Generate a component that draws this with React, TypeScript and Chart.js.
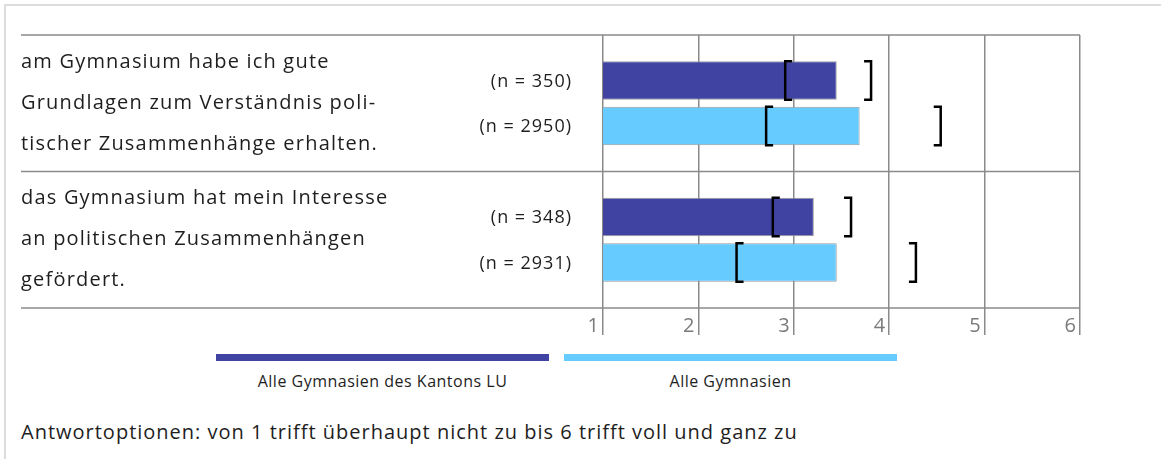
import { useEffect, useRef } from "react";
import { Chart, registerables } from "chart.js";

Chart.register(...registerables);

// Statement texts, one line per entry
const categories: string[][] = [
  ["am Gymnasium habe ich gute", "Grundlagen zum Verständnis poli-", "tischer Zusammenhänge erhalten."],
  ["das Gymnasium hat mein Interesse", "an politischen Zusammenhängen", "gefördert."],
];

const seriesNames = ["Alle Gymnasien des Kantons LU", "Alle Gymnasien"];

// Mean agreement (scale 1–6)
const kantonMeans = [3.45, 3.21];
const alleMeans = [3.69, 3.45];

// Range brackets around each mean
const kantonLower = [2.91, 2.78];
const kantonUpper = [3.81, 3.6];
const alleLower = [2.71, 2.4];
const alleUpper = [4.54, 4.28];

// Sample sizes
const kantonN = [350, 348];
const alleN = [2950, 2931];

const scaleTicks = [1, 2, 3, 4, 5, 6];

const note = "Antwortoptionen: von 1 trifft überhaupt nicht zu bis 6 trifft voll und ganz zu";

const FONT = "'Open Sans', 'DejaVu Sans', sans-serif";
const DARK = "#4143a3";
const LIGHT = "#66ccff";
const GRID = "#8a8a8a";
const TEXT = "#1e1e1e";

const lowers = [kantonLower, alleLower];
const uppers = [kantonUpper, alleUpper];
const sizes = [kantonN, alleN];

const overlayPlugin = {
  id: "overlay",
  beforeDatasetsDraw(chart: any) {
    const { ctx, chartArea, scales } = chart;
    const y = scales.y;
    const n = categories.length;
    const step = n > 1 ? y.getPixelForValue(1) - y.getPixelForValue(0) : chartArea.bottom - chartArea.top;
    const bounds: number[] = [];
    for (let i = 0; i <= n; i++) bounds.push(y.getPixelForValue(0) - step / 2 + i * step);
    ctx.save();
    ctx.strokeStyle = GRID;
    ctx.lineWidth = 1.5;
    bounds.forEach((b) => {
      ctx.beginPath();
      ctx.moveTo(21, b);
      ctx.lineTo(chartArea.right, b);
      ctx.stroke();
    });
    // statement texts
    ctx.fillStyle = TEXT;
    ctx.font = `20px ${FONT}`;
    (ctx as any).letterSpacing = "1.2px";
    ctx.textAlign = "left";
    ctx.textBaseline = "middle";
    categories.forEach((lines, i) => {
      const c = y.getPixelForValue(i);
      const lh = 41;
      const start = c - ((lines.length - 1) * lh) / 2;
      lines.forEach((l, k) => ctx.fillText(l, 21, start + k * lh));
    });
    // sample sizes next to each bar
    ctx.font = `18px ${FONT}`;
    (ctx as any).letterSpacing = "1px";
    ctx.textAlign = "right";
    chart.data.datasets.forEach((_: any, d: number) => {
      const meta = chart.getDatasetMeta(d);
      meta.data.forEach((bar: any, i: number) => {
        ctx.fillText(`(n = ${sizes[d][i]})`, chartArea.left - 31, bar.y + 1);
      });
    });
    ctx.restore();
  },
  afterDatasetsDraw(chart: any) {
    const { ctx, scales } = chart;
    const x = scales.x;
    ctx.save();
    ctx.strokeStyle = "#000";
    ctx.lineWidth = 2.5;
    ctx.lineJoin = "miter";
    ctx.lineCap = "butt";
    chart.data.datasets.forEach((_: any, d: number) => {
      const meta = chart.getDatasetMeta(d);
      meta.data.forEach((bar: any, i: number) => {
        const top = bar.y - bar.height / 2;
        const bot = bar.y + bar.height / 2;
        const xl = x.getPixelForValue(lowers[d][i]);
        const xu = x.getPixelForValue(uppers[d][i]);
        const w = 7;
        ctx.beginPath();
        ctx.moveTo(xl + w, top);
        ctx.lineTo(xl, top);
        ctx.lineTo(xl, bot);
        ctx.lineTo(xl + w, bot);
        ctx.stroke();
        ctx.beginPath();
        ctx.moveTo(xu - w, top);
        ctx.lineTo(xu, top);
        ctx.lineTo(xu, bot);
        ctx.lineTo(xu - w, bot);
        ctx.stroke();
      });
    });
    ctx.restore();
  },
};

export default function App() {
  const canvasRef = useRef<HTMLCanvasElement | null>(null);

  useEffect(() => {
    if (!canvasRef.current) return;
    const chart = new Chart(canvasRef.current, {
      type: "bar",
      data: {
        labels: categories.map((c) => c.join(" ")),
        datasets: [
          {
            label: seriesNames[0],
            data: kantonMeans,
            backgroundColor: DARK,
            borderColor: "#9a9a9a",
            borderWidth: 1,
            categoryPercentage: 0.667,
            barPercentage: 0.846,
          },
          {
            label: seriesNames[1],
            data: alleMeans,
            backgroundColor: LIGHT,
            borderColor: "#9a9a9a",
            borderWidth: 1,
            categoryPercentage: 0.667,
            barPercentage: 0.846,
          },
        ],
      },
      options: {
        indexAxis: "y",
        animation: false,
        responsive: true,
        maintainAspectRatio: false,
        layout: { padding: { left: 603, top: 35, right: 81, bottom: 0 } },
        plugins: {
          legend: { display: false },
          tooltip: { enabled: false },
        },
        scales: {
          y: { display: false },
          x: {
            min: scaleTicks[0],
            max: scaleTicks[scaleTicks.length - 1],
            afterBuildTicks: (scale: any) => {
              scale.ticks = scaleTicks.map((v) => ({ value: v }));
            },
            afterFit: (scale: any) => {
              scale.height = 34;
            },
            border: { display: false },
            grid: { color: GRID, lineWidth: 1.5, tickLength: 27, drawTicks: true },
            ticks: {
              align: "end",
              labelOffset: -4,
              padding: -21,
              color: "#7a7a7a",
              font: { family: FONT, size: 20 },
              autoSkip: false,
              maxRotation: 0,
            },
          },
        },
      },
      plugins: [overlayPlugin],
    });
    return () => chart.destroy();
  }, []);

  const legendText: React.CSSProperties = {
    position: "absolute",
    top: 372,
    width: 333,
    textAlign: "center",
    fontFamily: FONT,
    fontSize: 16,
    letterSpacing: "0.5px",
    lineHeight: "18px",
    color: TEXT,
    whiteSpace: "nowrap",
  };

  return (
    <div style={{ position: "fixed", left: 0, top: 0, width: 1161, height: 459, background: "#fff", overflow: "hidden" }}>
      <div
        style={{
          position: "absolute",
          left: 4,
          top: 4,
          width: 1300,
          height: 600,
          borderTop: "2px solid #dcdcdc",
          borderLeft: "2px solid #dcdcdc",
        }}
      />
      <div style={{ position: "absolute", left: 0, top: 0, width: 1161, height: 342 }}>
        <canvas ref={canvasRef} />
      </div>
      <div style={{ position: "absolute", left: 216, top: 354, width: 333, height: 7, background: DARK }} />
      <div style={{ position: "absolute", left: 564, top: 354, width: 333, height: 7, background: LIGHT }} />
      <div style={{ ...legendText, left: 216 }}>{seriesNames[0]}</div>
      <div style={{ ...legendText, left: 564 }}>{seriesNames[1]}</div>
      <div
        style={{
          position: "absolute",
          left: 21,
          top: 420,
          fontFamily: FONT,
          fontSize: 20,
          letterSpacing: "1px",
          lineHeight: "24px",
          color: TEXT,
          whiteSpace: "nowrap",
        }}
      >
        {note}
      </div>
    </div>
  );
}
